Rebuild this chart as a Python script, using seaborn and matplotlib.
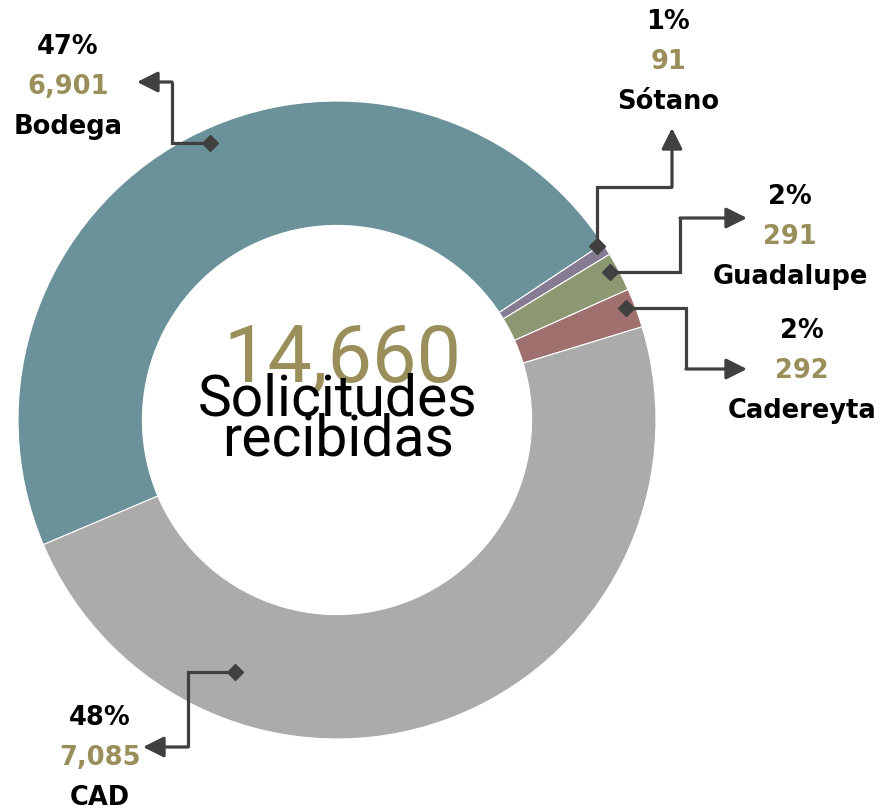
import numpy as np
import matplotlib
matplotlib.use("Agg")
from matplotlib import pyplot as plt
import seaborn as sns

# datos
categorias = ["Bodega", "Sótano", "Guadalupe", "Cadereyta", "CAD"]
solicitudes = [6901, 91, 291, 292, 7085]
porcentajes = ["47%", "1%", "2%", "2%", "48%"]
colores = ["#6b929b", "#857b93", "#8b9872", "#a0706e", "#ababab"]
total = 14660

sns.set_theme(style="white")
plt.rcParams["font.family"] = ["DejaVu Sans"]

W, H = 885, 810
ORO = "#9a8e5a"
GRIS = "#404040"

fig = plt.figure(figsize=(W / 100, H / 100), dpi=100)
ax = fig.add_axes([0, 0, 1, 1])
ax.set_xlim(0, W)
ax.set_ylim(0, H)
ax.set_aspect("equal")
ax.axis("off")

def Y(y):
    return H - y

cx, cy, R = 337, 420, 319
ax.pie(solicitudes, colors=colores, center=(cx, Y(cy)), radius=R,
       startangle=203, counterclock=False,
       wedgeprops=dict(width=R * 0.39, edgecolor="white", linewidth=0.8))
ax.set_xlim(0, W)
ax.set_ylim(0, H)

# conectores: diamante, codos, punta de flecha (pixeles)
conectores = [
    [(210, 143), (172, 143), (172, 82), (137, 82)],
    [(597, 246), (597, 187), (672, 187), (672, 128)],
    [(610, 272), (680, 272), (680, 218), (747, 218)],
    [(626, 308), (686, 308), (686, 369), (747, 369)],
    [(235, 672), (188, 672), (188, 747), (143, 747)],
]
# posiciones de etiquetas (centro x, y de la primera linea)
etiquetas = [(68, 47), (668, 22), (790, 197), (802, 331), (100, 718)]

for pts, (tx, ty), cat, val, pct in zip(conectores, etiquetas, categorias,
                                        solicitudes, porcentajes):
    xs = [p[0] for p in pts]
    ys = [Y(p[1]) for p in pts]
    ax.plot(xs[:-1], ys[:-1], color=GRIS, lw=2.3, solid_capstyle="butt",
            solid_joinstyle="miter", zorder=4)
    ax.annotate("", xy=(xs[-1], ys[-1]), xytext=(xs[-2], ys[-2]),
                arrowprops=dict(arrowstyle="-|>,head_length=0.9,head_width=0.45",
                                color=GRIS, lw=2.3, shrinkA=0, shrinkB=0,
                                mutation_scale=14), zorder=4)
    ax.plot(xs[0], ys[0], marker="D", ms=8, color=GRIS, zorder=5)
    kw = dict(ha="center", va="center", fontsize=18.5, fontweight="bold")
    ax.text(tx, Y(ty), pct, color="black", **kw)
    ax.text(tx, Y(ty + 40), f"{val:,}", color=ORO, **kw)
    ax.text(tx, Y(ty + 80), cat, color="black", **kw)

# texto central
centro = dict(ha="center", va="baseline", fontweight="normal",
              family=["Roboto", "DejaVu Sans"])
ax.text(cx + 5, Y(381), f"{total:,}", fontsize=57, color=ORO, **centro)
ax.text(cx + 1, Y(416), "Solicitudes", fontsize=41, color="black", **centro)
ax.text(cx + 1, Y(456), "recibidas", fontsize=41, color="black", **centro)

fig.savefig("out.png", dpi=100)
